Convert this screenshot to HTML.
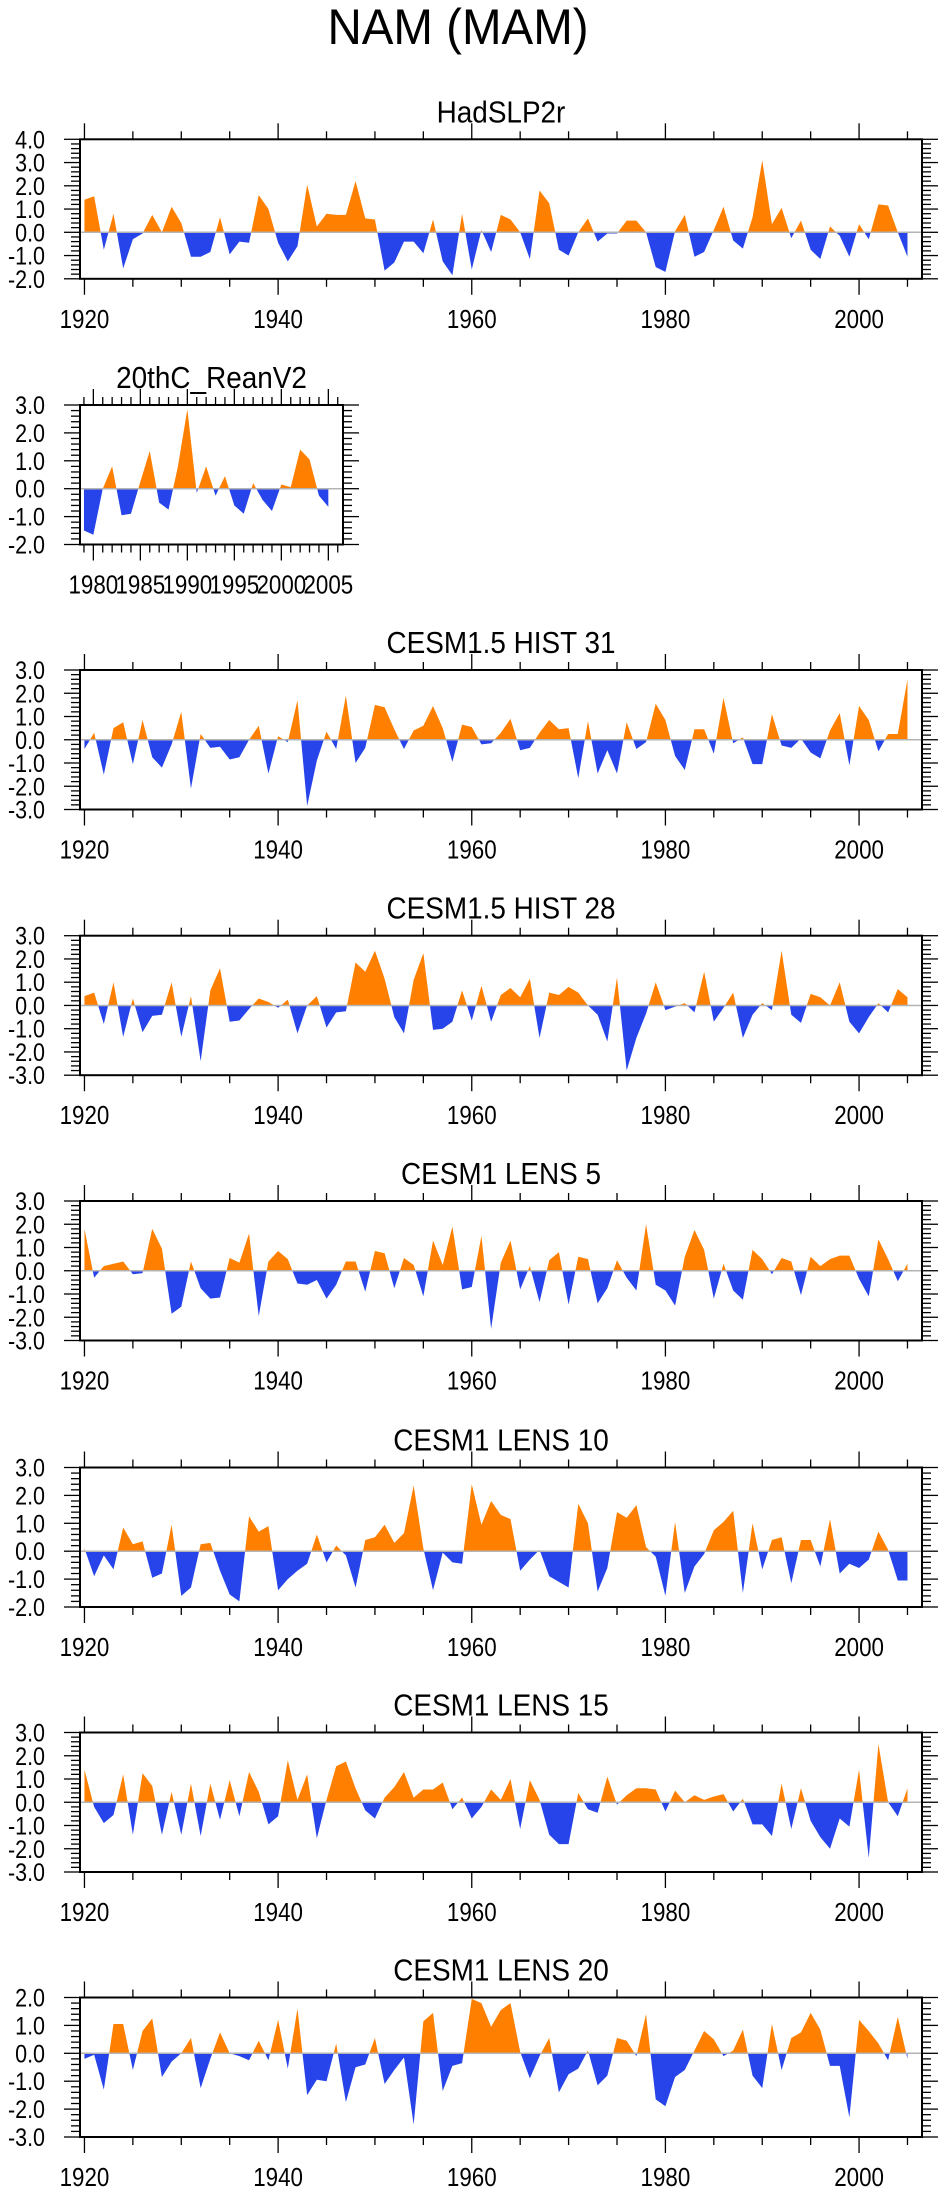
<!DOCTYPE html>
<html><head><meta charset="utf-8"><title>NAM (MAM)</title>
<style>
html,body{margin:0;padding:0;background:#fff;}
svg{display:block;font-family:"Liberation Sans",Arial,sans-serif;}
</style></head>
<body>
<svg id="fig" xmlns="http://www.w3.org/2000/svg" width="943" height="2196" viewBox="0 0 943 2196">
<rect x="0" y="0" width="943" height="2196" fill="#fff"/>
<text x="0" y="0" transform="translate(458,44) scale(0.95,1)" font-size="50" text-anchor="middle" fill="#000">NAM (MAM)</text>
</svg>
<script>
// ---- data ----
const mainStartYear = 1920;
const reanStartYear = 1979;
const hadslp2r = [1.4,1.55,-0.75,0.8,-1.55,-0.3,-0.05,0.75,0.0,1.1,
0.4,-1.05,-1.05,-0.85,0.65,-0.95,-0.4,-0.45,1.6,1.0,
-0.45,-1.25,-0.6,2.05,0.25,0.8,0.75,0.75,2.2,0.6,
0.55,-1.65,-1.3,-0.4,-0.4,-0.9,0.55,-1.25,-1.85,0.8,
-1.6,0.1,-0.85,0.75,0.55,0.0,-1.15,1.8,1.25,-0.75,
-1.0,0.0,0.6,-0.4,-0.05,-0.05,0.5,0.5,0.0,-1.5,
-1.7,0.05,0.75,-1.05,-0.85,0.1,1.1,-0.35,-0.7,0.65,
3.1,0.35,1.05,-0.25,0.5,-0.75,-1.15,0.25,-0.15,-1.05,
0.35,-0.3,1.2,1.15,0.0,-1.05];
const reanV2 = [-1.5,-1.65,0.0,0.8,-0.95,-0.9,0.25,1.35,-0.5,-0.75,0.8,2.85,-0.15,0.8,-0.25,0.45,-0.6,-0.9,0.2,-0.4,-0.8,0.15,0.05,1.4,1.05,-0.25,-0.65];
const hist31 = [-0.4,0.3,-1.5,0.5,0.75,-1.05,0.85,-0.75,-1.2,-0.2,
1.2,-2.1,0.25,-0.35,-0.3,-0.85,-0.75,0.0,0.6,-1.45,
0.15,-0.1,1.7,-2.85,-0.9,0.35,-0.4,1.9,-1.0,-0.35,
1.5,1.4,0.45,-0.4,0.4,0.6,1.45,0.5,-0.95,0.65,
0.55,-0.2,-0.15,0.3,0.9,-0.45,-0.35,0.3,0.85,0.45,
0.5,-1.65,0.8,-1.45,-0.45,-1.45,0.75,-0.4,-0.1,1.55,
0.85,-0.7,-1.3,0.45,0.45,-0.6,1.8,-0.15,0.1,-1.05,
-1.05,1.1,-0.25,-0.35,0.05,-0.55,-0.8,0.4,1.15,-1.1,
1.45,0.85,-0.5,0.25,0.25,2.6];
const hist28 = [0.4,0.55,-0.8,1.0,-1.35,0.3,-1.15,-0.45,-0.4,1.0,
-1.35,0.4,-2.4,0.65,1.6,-0.7,-0.65,-0.15,0.3,0.15,
-0.1,0.25,-1.2,0.0,0.4,-0.95,-0.3,-0.25,1.85,1.45,
2.35,1.15,-0.5,-1.2,1.1,2.25,-1.05,-1.0,-0.7,0.65,
-0.65,0.85,-0.7,0.45,0.75,0.35,1.15,-1.4,0.55,0.45,
0.8,0.55,0.0,-0.4,-1.55,1.2,-2.8,-1.4,-0.35,1.0,
-0.2,-0.05,0.1,-0.3,1.45,-0.7,-0.1,0.55,-1.4,-0.4,
0.1,-0.2,2.35,-0.4,-0.75,0.5,0.35,0.0,1.0,-0.7,
-1.2,-0.5,0.1,-0.3,0.7,0.35];
const lens5 = [1.8,-0.3,0.2,0.3,0.4,-0.15,-0.1,1.8,0.95,-1.85,
-1.55,0.4,-0.75,-1.2,-1.15,0.55,0.35,1.6,-1.95,0.4,
0.85,0.5,-0.55,-0.6,-0.4,-1.2,-0.6,0.4,0.4,-0.9,
0.85,0.75,-0.75,0.55,0.25,-1.1,1.3,0.25,1.9,-0.8,
-0.7,1.5,-2.5,0.35,1.3,-0.8,0.2,-1.35,0.45,0.8,
-1.45,0.6,0.5,-1.4,-0.75,0.45,-0.3,-0.85,2.0,-0.6,
-0.85,-1.5,0.6,1.75,0.9,-1.2,0.3,-0.85,-1.25,0.9,
0.5,-0.15,0.55,0.4,-1.05,0.6,0.2,0.5,0.65,0.65,
-0.35,-1.1,1.35,0.5,-0.45,0.3];
const lens10 = [0.1,-0.9,-0.15,-0.65,0.85,0.25,0.35,-0.95,-0.8,0.95,
-1.6,-1.3,0.25,0.3,-0.7,-1.55,-1.8,1.25,0.7,0.9,
-1.4,-1.0,-0.7,-0.45,0.6,-0.4,0.2,-0.15,-1.3,0.4,
0.5,0.95,0.3,0.65,2.35,0.1,-1.4,-0.05,-0.4,-0.45,
2.4,0.95,1.8,1.3,1.15,-0.7,-0.3,0.05,-0.9,-1.1,
-1.3,1.7,1.0,-1.45,-0.6,1.4,1.2,1.65,0.15,-0.2,
-1.6,1.05,-1.5,-0.55,-0.1,0.75,1.05,1.45,-1.5,1.0,
-0.65,0.4,0.5,-1.15,0.4,0.4,-0.55,1.15,-0.8,-0.45,
-0.6,-0.3,0.7,0.05,-1.05,-1.05];
const lens15 = [1.4,-0.2,-0.9,-0.55,1.2,-1.4,1.25,0.7,-1.4,0.45,
-1.4,0.8,-1.45,0.8,-0.75,0.95,-0.6,1.3,0.45,-0.95,
-0.6,1.8,0.1,1.2,-1.55,0.1,1.55,1.75,0.6,-0.35,
-0.7,0.2,0.65,1.3,0.2,0.55,0.55,0.85,-0.3,0.2,
-0.7,-0.2,0.55,0.1,1.0,-1.15,0.95,0.1,-1.4,-1.8,
-1.8,0.4,-0.3,-0.45,1.1,-0.1,0.3,0.6,0.6,0.55,
-0.4,0.5,0.0,0.3,0.1,0.25,0.35,-0.4,0.15,-0.95,
-0.95,-1.45,0.8,-1.15,0.6,-0.8,-1.5,-2.0,-0.7,-1.05,
1.4,-2.4,2.5,0.0,-0.6,0.6];
const lens20 = [-0.2,-0.05,-1.3,1.05,1.05,-0.6,0.8,1.25,-0.85,-0.3,
0.0,0.55,-1.25,-0.2,0.75,0.0,-0.1,-0.25,0.45,-0.25,
1.2,-0.55,1.6,-1.5,-0.95,-1.0,0.35,-1.75,-0.5,-0.4,
0.55,-1.1,-0.6,-0.15,-2.55,1.15,1.45,-1.35,-0.45,-0.35,
1.95,1.8,0.95,1.55,1.8,0.05,-0.9,-0.1,0.55,-1.4,
-0.75,-0.55,0.1,-1.15,-0.8,0.55,0.45,-0.1,1.4,-1.65,
-1.9,-0.85,-0.6,0.1,0.8,0.5,-0.1,0.1,0.85,-0.8,
-1.25,1.05,-0.6,0.55,0.75,1.45,0.85,-0.45,-0.45,-2.3,
1.2,0.8,0.35,-0.25,1.3,-0.2];

const NS='http://www.w3.org/2000/svg';
const svg=document.getElementById('fig');
function mk(tag,attrs,parent){const e=document.createElementNS(NS,tag);for(const k in attrs)e.setAttribute(k,attrs[k]);(parent||svg).appendChild(e);return e;}
function txt(parent,x,y,size,sxk,anchor,str){
  const t=mk('text',{x:0,y:0,transform:'translate('+x.toFixed(2)+','+y.toFixed(2)+') scale('+sxk+',1)','font-size':size,'text-anchor':anchor,fill:'#000',stroke:'none'},parent);
  t.textContent=str;return t;
}

function panel(c){
  const g=mk('g',{});
  
  
  const L=c.left,R=c.right,T=c.top,H=139.5,B=T+H;
  const sx=v=>L+(v-c.xmin)/(c.xmax-c.xmin)*(R-L);
  const sy=v=>T+(c.ymax-v)/(c.ymax-c.ymin)*H;
  const t=txt(g,(L+R)/2,T-17,31,0.9,'middle',c.title);
  
  
  const cid=c.id+'-clip';
  const defs=mk('defs',{},g);
  const cp1=mk('clipPath',{id:cid+'-pos'},defs); mk('rect',{x:L,y:T,width:R-L,height:sy(0)-T},cp1);
  const cp2=mk('clipPath',{id:cid+'-neg'},defs); mk('rect',{x:L,y:sy(0),width:R-L,height:B-sy(0)},cp2);
  let d='M'+sx(c.start).toFixed(2)+','+sy(0).toFixed(2);
  c.vals.forEach((v,i)=>{d+=' L'+sx(c.start+i).toFixed(2)+','+sy(v).toFixed(2);});
  d+=' L'+sx(c.start+c.vals.length-1).toFixed(2)+','+sy(0).toFixed(2)+' Z';
  const pos=mk('path',{d:d,fill:'#ff8000','clip-path':'url(#'+cid+'-pos)'},g);
  
  
  const neg=mk('path',{d:d,fill:'#2744ea','clip-path':'url(#'+cid+'-neg)'},g);
  
  
  const z=mk('line',{x1:L,x2:R,y1:sy(0),y2:sy(0),stroke:'#b4b4b4','stroke-width':1.5},g);
  
  
  const xt=mk('g',{stroke:'#000','stroke-width':1.3},g);
  
  
  for(let yr=Math.ceil(c.xmin);yr<=c.xmax;yr++){
    if(yr%c.xMinor!==0) continue;
    const major=yr%c.xMajor===0, len=major?16:8, x=sx(yr);
    mk('line',{x1:x,x2:x,y1:T,y2:T-len},xt);
    mk('line',{x1:x,x2:x,y1:B,y2:B+len},xt);
    if(major){
      const lb=txt(g,x,B+49,26,0.86,'middle',String(yr));
      
      
    }
  }
  const yt=mk('g',{stroke:'#000','stroke-width':1.3},g);
  
  
  const n=Math.round((c.ymax-c.ymin)/0.2);
  for(let i=0;i<=n;i++){
    const v=c.ymin+i*0.2, major=i%5===0, len=major?16:9, y=sy(v);
    mk('line',{x1:L,x2:L-len,y1:y,y2:y},yt);
    mk('line',{x1:R,x2:R+len,y1:y,y2:y},yt);
    if(major){
      const lb=txt(g,45,y+9,25,0.86,'end',v.toFixed(1));
      
      
    }
  }
  const fr=mk('rect',{x:L,y:T,width:R-L,height:H,fill:'none',stroke:'#000','stroke-width':2},g);
  
  
}

const mainX={left:80,right:922,xmin:1919.54,xmax:2006.5,start:mainStartYear,xMajor:20,xMinor:5};
panel(Object.assign({id:'hadslp2r',title:'HadSLP2r',top:139.3,ymin:-2,ymax:4,vals:hadslp2r},mainX));
panel({id:'reanv2',title:'20thC_ReanV2',top:405,left:80,right:343,xmin:1978.58,xmax:2006.56,start:reanStartYear,xMajor:5,xMinor:1,ymin:-2,ymax:3,vals:reanV2});
panel(Object.assign({id:'hist31',title:'CESM1.5 HIST 31',top:670,ymin:-3,ymax:3,vals:hist31},mainX));
panel(Object.assign({id:'hist28',title:'CESM1.5 HIST 28',top:935.7,ymin:-3,ymax:3,vals:hist28},mainX));
panel(Object.assign({id:'lens5',title:'CESM1 LENS 5',top:1201,ymin:-3,ymax:3,vals:lens5},mainX));
panel(Object.assign({id:'lens10',title:'CESM1 LENS 10',top:1467.5,ymin:-2,ymax:3,vals:lens10},mainX));
panel(Object.assign({id:'lens15',title:'CESM1 LENS 15',top:1732.5,ymin:-3,ymax:3,vals:lens15},mainX));
panel(Object.assign({id:'lens20',title:'CESM1 LENS 20',top:1997.5,ymin:-3,ymax:2,vals:lens20},mainX));
</script>
</body></html>
